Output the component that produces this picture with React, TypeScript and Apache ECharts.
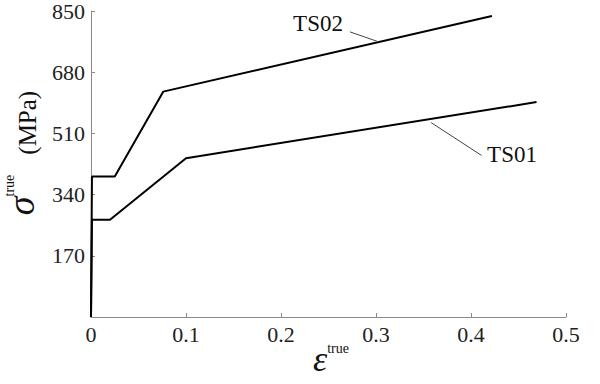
import React, { useEffect, useRef } from "react";
import * as echarts from "echarts";

const ts01Strain = [0, 0.001, 0.02, 0.1, 0.469];
const ts01Stress = [0, 270, 270, 441, 597];
const ts02Strain = [0, 0.001, 0.025, 0.076, 0.422];
const ts02Stress = [0, 390, 390, 626, 836];
const yTicks = [0, 170, 340, 510, 680, 850];
const xTicks = [0, 0.1, 0.2, 0.3, 0.4, 0.5];

const FONT = "'Liberation Serif', 'DejaVu Serif', serif";

export default function App() {
  const ref = useRef<HTMLDivElement>(null);
  useEffect(() => {
    if (!ref.current) return;
    const chart = echarts.init(ref.current, null, { renderer: "svg" });
    const pair = (xs: number[], ys: number[]) => xs.map((x, i) => [x, ys[i]]);
    const axisCommon = {
      axisLine: { show: true, lineStyle: { color: "#8a8a8a", width: 1 } },
      axisTick: { show: true, inside: true, length: 4, lineStyle: { color: "#8a8a8a" } },
      splitLine: { show: false },
      axisLabel: { fontFamily: FONT, fontSize: 22, color: "#222", margin: 6 },
    };
    chart.setOption({
      animation: false,
      backgroundColor: "#fff",
      grid: { left: 91, right: 34, top: 10, bottom: 67 },
      xAxis: {
        type: "value",
        min: 0,
        max: 0.5,
        interval: 0.1,
        ...axisCommon,
        axisLabel: {
          ...axisCommon.axisLabel,
          formatter: (v: number) => (xTicks.includes(+v.toFixed(1)) ? String(+v.toFixed(1)) : ""),
        },
      },
      yAxis: {
        type: "value",
        min: 0,
        max: 850,
        interval: 170,
        ...axisCommon,
        axisLabel: {
          ...axisCommon.axisLabel,
          formatter: (v: number) => (v !== 0 && yTicks.includes(v) ? String(v) : ""),
        },
      },
      series: [
        {
          name: "TS01",
          type: "line",
          data: pair(ts01Strain, ts01Stress),
          symbol: "none",
          lineStyle: { color: "#000", width: 2 },
          markLine: {
            silent: true,
            symbol: ["none", "arrow"],
            symbolSize: [0, 7],
            lineStyle: { color: "#444", width: 1, type: "solid" },
            label: { show: false },
            data: [[{ coord: [0.411, 449] }, { coord: [0.358, 540] }]],
          },
        },
        {
          name: "TS02",
          type: "line",
          data: pair(ts02Strain, ts02Stress),
          symbol: "none",
          lineStyle: { color: "#000", width: 2 },
          markLine: {
            silent: true,
            symbol: ["none", "arrow"],
            symbolSize: [0, 7],
            lineStyle: { color: "#444", width: 1, type: "solid" },
            label: { show: false },
            data: [[{ coord: [0.2726, 792] }, { coord: [0.301, 766] }]],
          },
        },
      ],
      graphic: [
        {
          type: "text",
          x: 318,
          y: 23,
          style: { text: "TS02", font: `23px ${FONT}`, fill: "#111", align: "center", verticalAlign: "middle" },
        },
        {
          type: "text",
          x: 512,
          y: 154,
          style: { text: "TS01", font: `23px ${FONT}`, fill: "#111", align: "center", verticalAlign: "middle" },
        },
        {
          type: "text",
          x: 331,
          y: 359,
          style: {
            text: "{e|ε}{t|true}",
            align: "center",
            verticalAlign: "middle",
            rich: {
              e: { fontFamily: FONT, fontStyle: "italic", fontSize: 36, fill: "#111", verticalAlign: "bottom" },
              t: { fontFamily: FONT, fontSize: 14, fill: "#111", verticalAlign: "top" },
            },
          },
        },
        {
          type: "text",
          x: 21,
          y: 153,
          rotation: Math.PI / 2,
          style: {
            text: "{e|σ}{t|true}{s| }{m|(MPa)}",
            align: "center",
            verticalAlign: "middle",
            rich: {
              e: { fontFamily: FONT, fontStyle: "italic", fontSize: 38, fill: "#111", verticalAlign: "bottom" },
              t: { fontFamily: FONT, fontSize: 14, fill: "#111", verticalAlign: "top" },
              s: { fontSize: 10, width: 20 },
              m: { fontFamily: FONT, fontSize: 25, fill: "#111", verticalAlign: "bottom" },
            },
          },
        },
      ],
    });
    return () => chart.dispose();
  }, []);
  return <div ref={ref} style={{ width: 600, height: 384, position: "absolute", left: 0, top: 0 }} />;
}
